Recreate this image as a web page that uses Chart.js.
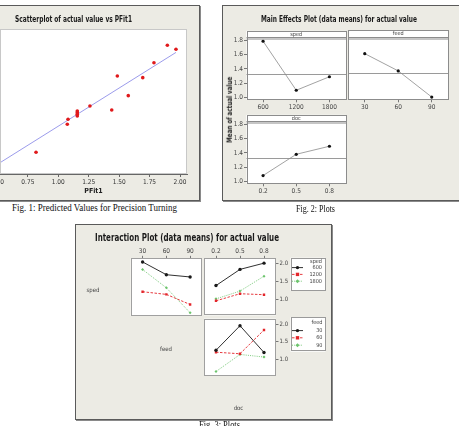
<!DOCTYPE html>
<html><head><meta charset="utf-8">
<script src="https://cdn.jsdelivr.net/npm/chart.js@4.4.1/dist/chart.umd.min.js"></script>
<style>
html,body{margin:0;padding:0;background:#fff;}
body{width:459px;height:426px;position:relative;overflow:hidden;}
.frame{position:absolute;background:#ECEBE4;border:1px solid #5a5a5a;box-shadow:1px 1px 0 #8a8a8a;box-sizing:border-box;}
canvas{position:absolute;display:block;}
.t{position:absolute;white-space:nowrap;transform-origin:0 50%;line-height:1;}
.ttl{font-family:"DejaVu Sans Condensed","DejaVu Sans",sans-serif;font-weight:bold;color:#1a1a1a;}
.cap{font-family:"Liberation Serif","DejaVu Serif",serif;color:#111;}
.lab{font-family:"DejaVu Sans Condensed","DejaVu Sans",sans-serif;color:#444;}
</style></head><body>
<div class="frame" style="left:-6px;top:5px;width:206px;height:196px"></div>
<div class="frame" style="left:222px;top:5px;width:245px;height:196px"></div>
<div class="frame" style="left:75px;top:224px;width:257px;height:196px"></div>
<script>
// ---------------- DATA ----------------
// Fig 1 scatter: fitted value (PFit1) vs actual value
const pfit   = [0.817,1.074,1.080,1.156,1.156,1.156,1.156,1.260,1.439,1.485,1.575,1.694,1.786,1.896,1.967];
const actual = [0.658,1.025,1.090,1.134,1.156,1.177,1.199,1.265,1.212,1.658,1.400,1.636,1.832,2.060,2.008];
const pfitTicks = [0.50,0.75,1.00,1.25,1.50,1.75,2.00];
const fitLineX = [0.40,1.967];
const fitLineY = [0.40,1.967];

// Fig 2 main effects
const speedLevels = ['600','1200','1800'];
const feedLevels  = ['30','60','90'];
const docLevels   = ['0.2','0.5','0.8'];
const speedMeans  = [1.79,1.10,1.29];
const feedMeans   = [1.607,1.367,1.004];
const docMeans    = [1.082,1.381,1.494];
const grandMean   = 1.333;
const mainTicks   = [1.0,1.2,1.4,1.6,1.8];

// Fig 3 interaction
const sf600=[2.035,1.684,1.622], sf1200=[1.216,1.143,0.865], sf1800=[1.827,1.324,0.638]; // speed over feed
const sd600=[1.378,1.827,2.000], sd1200=[0.954,1.151,1.124], sd1800=[1.008,1.224,1.638]; // speed over doc
const fd30=[1.262,1.954,1.199],  fd60=[1.207,1.163,1.834],  fd90=[0.662,1.144,1.071];   // feed over doc
const interTicks=[1.0,1.5,2.0];

// ---------------- HELPERS ----------------
const FONT='"DejaVu Sans Condensed","DejaVu Sans",sans-serif';
Chart.defaults.font.family=FONT;
Chart.defaults.color='#444';
Chart.defaults.plugins.legend.display=false;
Chart.defaults.plugins.tooltip.enabled=false;

function drawMarker(ctx,style,r,x,y){
  ctx.beginPath();
  if(style==='rect'){ctx.rect(x-r,y-r,2*r,2*r);}
  else if(style==='rectRot'){ctx.moveTo(x,y-r*1.3);ctx.lineTo(x+r*1.3,y);ctx.lineTo(x,y+r*1.3);ctx.lineTo(x-r*1.3,y);ctx.closePath();}
  else {ctx.arc(x,y,r,0,Math.PI*2);}
  ctx.fill();
}
const boxPlugin={id:'box',
  beforeDraw(c,a,o){if(!o||!o.fill)return;const r=c.chartArea,x=c.ctx;x.save();x.fillStyle=o.fill;x.fillRect(r.left,r.top,r.width,r.height);x.restore();},
  afterDraw(c,a,o){if(!o||!o.stroke)return;const r=c.chartArea,x=c.ctx;x.save();x.strokeStyle=o.stroke;x.lineWidth=1;x.strokeRect(Math.round(r.left)+0.5,Math.round(r.top)+0.5,Math.round(r.width)-1,Math.round(r.height)-1);x.restore();}};
const meanPlugin={id:'meanline',
  beforeDatasetsDraw(c,a,o){if(!o||o.value==null)return;const r=c.chartArea,x=c.ctx,y=Math.round(c.scales.y.getPixelForValue(o.value))+0.5;x.save();x.strokeStyle='#9a9a9a';x.lineWidth=1;x.beginPath();x.moveTo(r.left,y);x.lineTo(r.right,y);x.stroke();x.restore();}};
const stripPlugin={id:'strip',
  afterDatasetsDraw(c,a,o){if(!o||!o.text)return;const r=c.chartArea,x=c.ctx,h=6.5;x.save();x.fillStyle='#fff';x.fillRect(r.left,r.top,r.width,h+2);
    x.strokeStyle='#8c8c8c';x.lineWidth=1;const y1=Math.round(r.top+h)+0.5;x.beginPath();x.moveTo(r.left,y1);x.lineTo(r.right,y1);x.moveTo(r.left,y1+1.5);x.lineTo(r.right,y1+1.5);x.stroke();
    x.fillStyle='#444';x.font='5.5px '+FONT;x.textAlign='center';x.textBaseline='middle';x.fillText(o.text,(r.left+r.right)/2,r.top+h/2+0.3);x.restore();}};
const legendPlugin={id:'ilegend',
  afterDraw(c,a,o){if(!o||!o.box||!o.off)return;const x=c.ctx,ox=o.off[0],oy=o.off[1],l=o.box[0],t=o.box[1],rr=o.box[2],b=o.box[3];x.save();
    x.fillStyle='#fff';x.fillRect(l-ox,t-oy,rr-l,b-t);x.strokeStyle='#9a9a9a';x.lineWidth=1;x.strokeRect(Math.round(l-ox)+0.5,Math.round(t-oy)+0.5,Math.round(rr-l)-1,Math.round(b-t)-1);
    x.font='5.5px '+FONT;x.textAlign='right';x.textBaseline='middle';x.fillStyle='#444';x.fillText(o.title,rr-ox-3,o.titleY-oy);
    c.data.datasets.forEach((d,i)=>{const y=o.rowY[i]-oy;x.strokeStyle=d.borderColor;x.lineWidth=d.borderWidth;x.setLineDash(d.borderDash||[]);
      x.beginPath();x.moveTo(o.x1-ox,y);x.lineTo(o.x2-ox,y);x.stroke();x.setLineDash([]);
      x.fillStyle=d.backgroundColor;drawMarker(x,d.pointStyle,d.pointRadius,(o.x1+o.x2)/2-ox,y);
      x.fillStyle='#444';x.fillText(d.label,rr-ox-3,y);});
    x.restore();}};
Chart.register(boxPlugin,meanPlugin,stripPlugin,legendPlugin);

function makeChart(rect,area,cfg){
  const [cl,ct,cw,ch]=rect,[al,at,ar,ab]=area;
  const margin={left:al-cl,top:at-ct,right:cl+cw-ar,bottom:ct+ch-ab};
  const pad=Object.assign({},margin);
  const sc=cfg.options.scales;
  for(const k in sc){const s=sc[k];if(s.display===false)continue;
    const pos=s.position||(k[0]==='x'?'bottom':'left');const m=margin[pos];pad[pos]=0;
    const hz=(pos==='top'||pos==='bottom');s.afterFit=z=>{if(hz)z.height=m;else z.width=m;};}
  cfg.options.layout={padding:pad};
  cfg.options.responsive=false;cfg.options.animation=false;cfg.options.devicePixelRatio=1;
  if(cfg.options.plugins&&cfg.options.plugins.ilegend)cfg.options.plugins.ilegend.off=[cl,ct];
  const cv=document.createElement('canvas');cv.width=cw;cv.height=ch;
  cv.style.left=cl+'px';cv.style.top=ct+'px';cv.style.width=cw+'px';cv.style.height=ch+'px';
  document.body.appendChild(cv);
  return new Chart(cv,cfg);
}
function txt(s,cls,size,x0,x1,yc){
  const e=document.createElement('span');e.className='t '+cls;e.textContent=s;e.style.fontSize=size+'px';
  document.body.appendChild(e);const r=e.getBoundingClientRect();
  e.style.left=x0+'px';e.style.top=(yc-r.height/2)+'px';
  if(x1!=null)e.style.transform='scaleX('+((x1-x0)/r.width)+')';return e;
}
function txtC(s,cls,size,xc,yc){
  const e=document.createElement('span');e.className='t '+cls;e.textContent=s;e.style.fontSize=size+'px';
  document.body.appendChild(e);const r=e.getBoundingClientRect();
  e.style.left=(xc-r.width/2)+'px';e.style.top=(yc-r.height/2)+'px';return e;
}
const tickFont={size:6.5,family:FONT};
function tickGrid(){return {display:true,drawOnChartArea:false,drawTicks:true,tickLength:2.5,color:'#777',offset:false};}
function catX(labels,pos,display){return {type:'category',labels,offset:true,position:pos,display:display!==false,
  grid:tickGrid(),border:{display:false},ticks:{padding:0.8,font:tickFont,color:'#444',maxRotation:0,autoSkip:false}};}
function linY(min,max,ticks,pos,display,fs){return {type:'linear',min,max,position:pos,display:display!==false,
  afterBuildTicks:s=>{s.ticks=ticks.map(v=>({value:v}));},
  grid:tickGrid(),border:{display:false},ticks:{padding:1,font:{size:fs||6.5,family:FONT},color:'#444',callback:v=>Number(v).toFixed(1)}};}
const LS=[{color:'#1a1a1a',dash:[],style:'circle',r:1.7},{color:'#e3262b',dash:[2.5,1.5],style:'rect',r:1.7},{color:'#6cc46c',dash:[1,1.2],style:'rectRot',r:1.5}];
function ser(label,data,i){const s=LS[i];return {label,data,borderColor:s.color,backgroundColor:s.color,borderWidth:0.9,borderDash:s.dash,pointStyle:s.style,pointRadius:s.r,pointBorderWidth:0,tension:0};}
function mainSer(data){return {data,borderColor:'#8a8a8a',backgroundColor:'#111',borderWidth:0.8,pointRadius:1.6,pointBorderWidth:0,tension:0};}

// ---------------- FIG 1 ----------------
makeChart([-20,20,212,180],[0,29.3,187,174],{type:'scatter',
  data:{datasets:[
    {type:'line',data:fitLineX.map((x,i)=>({x,y:fitLineY[i]})),borderColor:'#8282e6',borderWidth:0.8,pointRadius:0,order:2},
    {type:'scatter',data:pfit.map((x,i)=>({x,y:actual[i]})),backgroundColor:'#e0191b',borderColor:'#e0191b',pointRadius:1.8,pointBorderWidth:0,order:1}]},
  options:{plugins:{box:{fill:'#fff',stroke:'#c8c8c8'}},
    scales:{
      x:{type:'linear',min:0.521,max:2.0575,afterBuildTicks:s=>{s.ticks=pfitTicks.map(v=>({value:v}));},
        grid:{display:true,drawOnChartArea:false,drawTicks:true,tickLength:3,color:'#666'},border:{display:true,color:'#666',width:1},
        ticks:{padding:1,font:{size:6.5},color:'#333',maxRotation:0,autoSkip:false,callback:v=>Number(v).toFixed(2)},
        title:{display:true,text:'PFit1',font:{size:7,weight:'bold'},color:'#222',padding:{top:0,bottom:4.5}}},
      y:{type:'linear',min:0.373,max:2.27,display:false}}}});
txt('Scatterplot of actual value vs PFit1','ttl',9.5,15,132,19);
txt('Fig. 1: Predicted Values for Precision Turning','cap',11,12,177,207.5);

// ---------------- FIG 2 ----------------
const yMin=0.966,yMax=1.935;
makeChart([226,26,124,88],[246.5,29.3,347.5,99.8],{type:'line',
  data:{labels:speedLevels,datasets:[mainSer(speedMeans)]},
  options:{plugins:{box:{fill:'#fff',stroke:'#8c8c8c'},meanline:{value:grandMean},strip:{text:'sped'}},
    scales:{x:catX(speedLevels,'bottom'),y:linY(yMin,yMax,mainTicks,'left')}}});
makeChart([344,26,112,88],[347.5,29.3,448.5,99.8],{type:'line',
  data:{labels:feedLevels,datasets:[mainSer(feedMeans)]},
  options:{plugins:{box:{fill:'#fff',stroke:'#8c8c8c'},meanline:{value:grandMean},strip:{text:'feed'}},
    scales:{x:catX(feedLevels,'bottom'),y:linY(yMin,yMax,mainTicks,'left',false)}}});
makeChart([226,110,124,88],[246.5,113.3,347.5,183.8],{type:'line',
  data:{labels:docLevels,datasets:[mainSer(docMeans)]},
  options:{plugins:{box:{fill:'#fff',stroke:'#8c8c8c'},meanline:{value:grandMean},strip:{text:'doc'}},
    scales:{x:catX(docLevels,'bottom'),y:linY(yMin,yMax,mainTicks,'left')}}});
txt('Main Effects Plot (data means) for actual value','ttl',9.5,261,417,18.3);
(function(){const e=txtC('Mean of actual value','ttl',7.5,230,110);const w=e.getBoundingClientRect().width;e.style.transformOrigin='50% 50%';e.style.transform='rotate(-90deg) scaleX('+(66/w)+')';})();
txt('Fig. 2: Plots','cap',11,296,335,208);

// ---------------- FIG 3 ----------------
makeChart([126,246,80,74],[130.7,258.3,202.5,317],{type:'line',
  data:{labels:feedLevels,datasets:[ser('600',sf600,0),ser('1200',sf1200,1),ser('1800',sf1800,2)]},
  options:{plugins:{box:{fill:'#fff',stroke:'#a0a0a0'}},
    scales:{x:catX(feedLevels,'top'),y:linY(0.549,2.135,interTicks,'right',false)}}});
makeChart([200,246,134,74],[202.5,258.3,276,317],{type:'line',
  data:{labels:docLevels,datasets:[ser('600',sd600,0),ser('1200',sd1200,1),ser('1800',sd1800,2)]},
  options:{plugins:{box:{fill:'#fff',stroke:'#a0a0a0'},
      ilegend:{box:[290.5,257.7,325,290.7],title:'sped',titleY:261.2,rowY:[267.6,274.4,281.2],x1:292,x2:303}},
    scales:{x:catX(docLevels,'top'),y:linY(0.549,2.135,interTicks,'right',true,6)}}});
makeChart([200,314,134,66],[202.5,317,276,375.7],{type:'line',
  data:{labels:docLevels,datasets:[ser('30',fd30,0),ser('60',fd60,1),ser('90',fd90,2)]},
  options:{plugins:{box:{fill:'#fff',stroke:'#a0a0a0'},
      ilegend:{box:[290.5,317.3,325.5,351.7],title:'feed',titleY:322.3,rowY:[330.6,337.8,345.2],x1:292,x2:303}},
    scales:{x:catX(docLevels,'bottom',false),y:linY(0.553,2.155,interTicks,'right',true,6)}}});
txt('Interaction Plot (data means) for actual value','ttl',10,95,279,237.5);
txtC('sped','lab',6,93,290);
txtC('feed','lab',6,166,349);
txtC('doc','lab',6,238.5,407.5);
txt('Fig. 3: Plots','cap',11,199,240,424.5);
</script></body></html>
